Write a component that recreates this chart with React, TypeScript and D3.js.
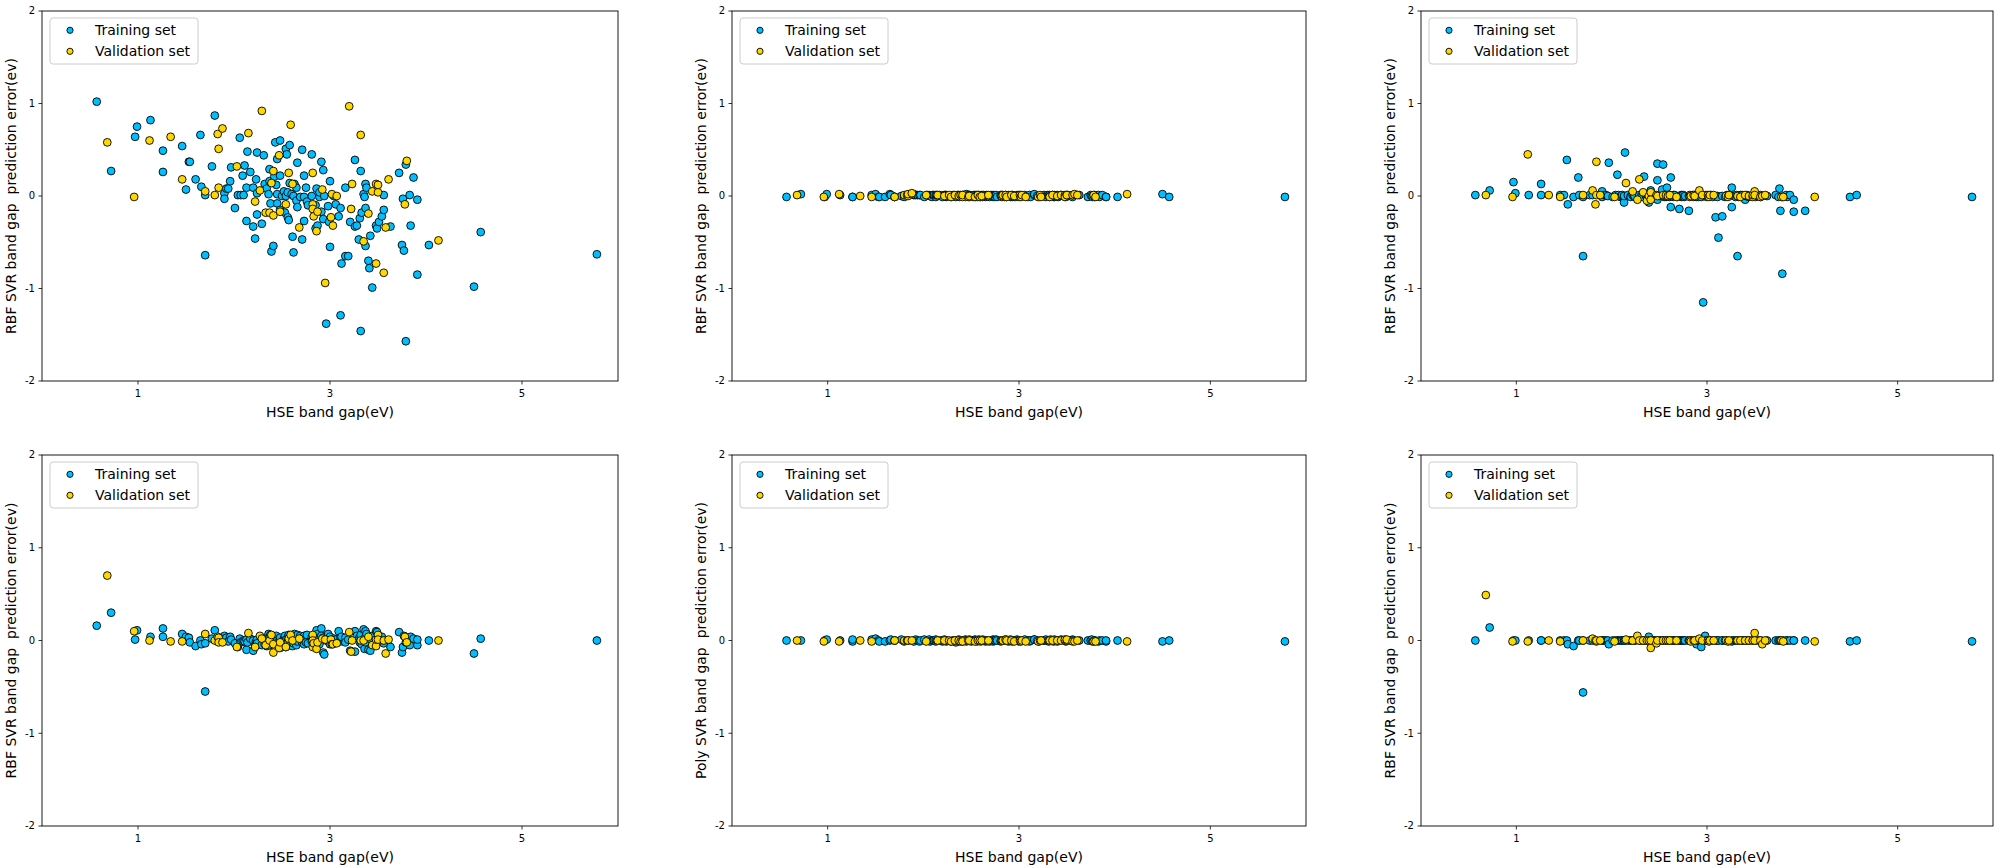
import * as d3 from 'd3';

// HSE band gap (eV) of every compound, shared by all six panels
const trainX = [
  0.57, 0.72, 0.97, 0.99, 1.13, 1.26, 1.26, 1.46, 1.5, 1.53,
  1.54, 1.6, 1.65, 1.66, 1.7, 1.7, 1.77, 1.8, 1.9, 1.9,
  1.92, 1.94, 1.96, 1.97, 2.01, 2.04, 2.06, 2.07, 2.09, 2.1,
  2.11, 2.13, 2.13, 2.14, 2.17, 2.2, 2.2, 2.22, 2.23, 2.24,
  2.24, 2.24, 2.29, 2.31, 2.32, 2.34, 2.36, 2.37, 2.37, 2.38,
  2.39, 2.41, 2.42, 2.43, 2.44, 2.45, 2.45, 2.45, 2.48, 2.48,
  2.48, 2.5, 2.52, 2.53, 2.54, 2.54, 2.55, 2.56, 2.56, 2.57,
  2.58, 2.58, 2.6, 2.61, 2.62, 2.62, 2.63, 2.65, 2.65, 2.66,
  2.66, 2.69, 2.71, 2.71, 2.73, 2.73, 2.73, 2.75, 2.76, 2.77,
  2.81, 2.81, 2.85, 2.86, 2.85, 2.87, 2.89, 2.89, 2.91, 2.91,
  2.93, 2.93, 2.94, 2.96, 2.98, 2.99, 3.0, 3.0, 3.04, 3.06,
  3.09, 3.11, 3.11, 3.12, 3.16, 3.16, 3.19, 3.21, 3.26, 3.26,
  3.28, 3.3, 3.31, 3.32, 3.32, 3.33, 3.35, 3.36, 3.37, 3.37,
  3.37, 3.38, 3.4, 3.41, 3.42, 3.44, 3.48, 3.49, 3.51, 3.54,
  3.56, 3.56, 3.63, 3.72, 3.75, 3.76, 3.77, 3.79, 3.79, 3.83,
  3.84, 3.87, 3.91, 3.91, 4.03, 4.5, 4.57, 5.78,
];
const validX = [
  0.68, 0.96, 1.12, 1.34, 1.46, 1.7, 1.8, 1.83, 1.84, 1.84,
  1.88, 2.03, 2.15, 2.22, 2.27, 2.29, 2.33, 2.37, 2.39, 2.41,
  2.41, 2.47, 2.48, 2.54, 2.57, 2.59, 2.61, 2.68, 2.82, 2.82,
  2.82, 2.83, 2.86, 2.87, 2.92, 2.95, 3.01, 3.02, 3.03, 3.07,
  3.2, 3.22, 3.23, 3.32, 3.35, 3.4, 3.44, 3.48, 3.48, 3.5,
  3.5, 3.56, 3.58, 3.61, 3.78, 3.8, 4.13,
];

// prediction errors, panel A (top left) ... F (bottom right)
const errTrainA = [
  1.02, 0.27, 0.64, 0.75, 0.82, 0.49, 0.26, 0.54, 0.07, 0.37,
  0.37, 0.18, 0.66, 0.1, 0.01, -0.64, 0.32, 0.87, 0.03, -0.03,
  0.08, 0.08, 0.16, 0.31, -0.13, 0.01, 0.63, 0.01, 0.22, 0.01,
  0.33, -0.27, 0.09, 0.48, 0.26, 0.09, -0.33, -0.46, 0.18, 0.47,
  -0.2, 0.03, -0.3, 0.44, 0.13, 0.08, 0.02, 0.29, 0.16, -0.08,
  -0.6, -0.54, 0.21, 0.58, 0.12, -0.08, 0.4, 0.02, -0.15, 0.6,
  0.22, 0.0, 0.05, -0.18, 0.51, 0.0, 0.45, -0.23, 0.04, -0.26,
  0.55, 0.14, 0.02, -0.44, -0.61, 0.0, 0.13, 0.09, -0.05, 0.36,
  -0.12, -0.01, 0.5, -0.47, 0.22, -0.01, -0.27, 0.09, -0.06, -0.1,
  0.45, 0.0, -0.1, 0.08, -0.35, -0.32, -0.01, 0.04, -0.17, 0.37,
  0.28, -0.25, 0.0, -1.38, -0.11, -0.28, 0.16, -0.55, 0.0, -0.09,
  -0.22, -0.13, -1.29, -0.73, -0.65, 0.09, -0.65, -0.28, -0.33, 0.39,
  -0.32, -0.47, -0.24, -1.46, 0.27, -0.18, 0.02, -0.01, 0.13, -0.13,
  -0.54, 0.09, -0.7, -0.78, -0.43, -0.99, -0.32, -0.35, -0.28, -0.22,
  -0.15, 0.01, -0.33, 0.25, -0.53, -0.03, -0.59, -1.57, 0.34, 0.01,
  -0.32, 0.2, -0.04, -0.85, -0.53, -0.98, -0.39, -0.63,
];
const errValidA = [
  0.58, -0.01, 0.6, 0.64, 0.18, 0.05, 0.01, 0.67, 0.09, 0.51,
  0.73, 0.32, 0.68, -0.06, 0.06, 0.92, -0.18, -0.18, 0.14, 0.27,
  -0.21, 0.44, -0.17, -0.09, 0.25, 0.77, 0.13, -0.34, 0.25, -0.09,
  -0.14, -0.22, -0.38, -0.17, 0.07, -0.94, -0.23, 0.02, -0.32, 0.0,
  0.97, -0.14, 0.13, 0.66, -0.49, -0.19, 0.05, 0.13, -0.73, 0.04,
  0.12, -0.83, -0.34, 0.18, -0.09, 0.38, -0.48,
];

const errTrainB = [
  -0.01, 0.02, -0.01, 0.02, 0.01, -0.01, -0.01, 0.01, 0.02, -0.01,
  -0.01, -0.01, 0.02, 0.01, -0.01, -0.01, 0.0, -0.01, 0.01, 0.02,
  0.01, 0.01, 0.01, 0.01, -0.01, 0.01, 0.01, 0.0, -0.01, 0.01,
  0.01, -0.01, 0.01, 0.01, 0.01, 0.0, -0.01, 0.01, 0.01, -0.01,
  0.01, 0.0, -0.01, 0.01, 0.0, -0.01, 0.01, 0.01, 0.0, -0.01,
  0.0, 0.01, 0.01, 0.0, -0.01, 0.01, 0.02, 0.0, -0.01, 0.01,
  0.01, 0.0, -0.01, 0.01, 0.0, 0.01, -0.01, 0.0, 0.01, -0.01,
  0.01, 0.0, -0.01, 0.01, 0.0, -0.01, 0.01, 0.0, -0.01, 0.01,
  0.0, -0.01, 0.01, 0.0, -0.01, 0.01, 0.0, -0.01, 0.01, -0.01,
  0.0, 0.01, -0.01, 0.01, 0.0, -0.01, 0.0, 0.01, -0.01, 0.0,
  0.01, -0.01, 0.0, -0.01, 0.01, 0.0, 0.01, -0.01, 0.0, 0.01,
  -0.01, 0.0, 0.01, -0.01, 0.01, 0.02, 0.0, -0.01, 0.0, 0.01,
  -0.01, 0.01, 0.0, -0.01, 0.01, 0.0, 0.01, -0.01, 0.0, 0.01,
  -0.01, 0.0, 0.01, -0.01, 0.0, 0.01, 0.0, -0.01, 0.01, 0.0,
  -0.01, 0.01, 0.01, -0.01, 0.01, 0.0, -0.01, 0.01, -0.01, 0.01,
  -0.01, 0.01, -0.01, -0.01, -0.01, 0.02, -0.01, -0.01,
];
const errValidB = [
  0.01, -0.01, 0.02, 0.0, -0.01, -0.01, 0.01, 0.01, 0.0, 0.02,
  0.03, 0.01, 0.01, 0.0, 0.01, -0.01, 0.01, 0.0, 0.01, -0.01,
  0.01, -0.01, 0.0, -0.01, 0.01, -0.01, 0.0, 0.01, 0.01, -0.01,
  0.0, 0.01, 0.01, -0.01, 0.01, 0.0, 0.01, -0.01, 0.01, -0.01,
  -0.01, 0.01, -0.01, -0.01, 0.01, 0.0, 0.01, 0.01, -0.01, 0.01,
  0.01, 0.01, 0.02, 0.01, 0.01, -0.01, 0.02,
];

const errTrainC = [
  0.01, 0.06, 0.15, 0.03, 0.01, 0.13, 0.01, 0.01, 0.01, 0.39,
  -0.09, -0.01, 0.2, 0.01, -0.01, -0.65, 0.01, 0.01, 0.05, -0.01,
  0.01, 0.01, 0.0, 0.36, -0.01, 0.01, 0.23, 0.01, -0.01, 0.0,
  0.01, -0.07, 0.0, 0.47, 0.01, 0.0, -0.01, 0.01, 0.0, 0.01,
  -0.01, 0.0, 0.01, 0.0, -0.01, 0.21, 0.0, 0.01, -0.01, 0.0,
  -0.07, 0.06, 0.01, 0.0, -0.01, 0.01, 0.0, -0.01, -0.04, 0.35,
  0.17, 0.0, 0.01, 0.07, 0.34, 0.0, -0.01, 0.01, 0.0, -0.01,
  0.09, 0.0, 0.01, -0.01, 0.2, -0.12, 0.0, 0.01, -0.01, 0.0,
  0.01, -0.01, -0.14, 0.0, 0.01, -0.01, 0.0, 0.01, -0.01, 0.0,
  -0.16, 0.0, 0.01, -0.01, 0.0, 0.01, -0.01, 0.0, 0.01, -0.01,
  0.0, 0.01, -0.01, -1.15, 0.0, 0.01, -0.01, 0.0, 0.01, -0.01,
  -0.23, 0.0, -0.01, -0.45, -0.22, 0.0, -0.01, 0.01, 0.09, -0.12,
  0.0, -0.01, 0.01, -0.65, 0.0, -0.01, 0.01, 0.0, -0.01, 0.0,
  0.01, -0.01, -0.04, 0.0, 0.01, -0.01, 0.0, 0.01, -0.01, 0.0,
  0.01, -0.01, 0.0, 0.01, -0.01, 0.08, -0.16, -0.84, -0.01, 0.01,
  -0.01, 0.01, -0.04, -0.17, -0.16, -0.01, 0.01, -0.01,
];
const errValidC = [
  0.01, -0.01, 0.45, 0.01, -0.01, 0.01, 0.06, -0.09, 0.01, 0.37,
  0.01, -0.01, 0.14, 0.05, -0.04, 0.18, 0.04, -0.05, 0.0, 0.04,
  -0.04, 0.01, 0.0, 0.01, 0.01, 0.0, 0.01, -0.01, 0.0, 0.01,
  -0.01, 0.0, 0.01, 0.0, 0.06, 0.01, 0.01, -0.01, 0.01, 0.01,
  0.0, -0.01, 0.01, 0.0, -0.01, 0.01, 0.0, -0.01, 0.01, 0.05,
  0.01, -0.01, 0.0, 0.01, -0.01, -0.01, -0.01,
];

const errTrainD = [
  0.16, 0.3, 0.01, 0.11, 0.04, 0.13, 0.04, 0.07, 0.04, 0.03,
  -0.02, -0.06, 0.0, -0.04, -0.03, -0.55, 0.02, 0.11, 0.05, 0.02,
  0.03, -0.01, 0.04, 0.01, -0.03, -0.07, 0.02, -0.02, -0.01, 0.0,
  -0.01, -0.1, 0.01, -0.02, 0.02, -0.11, 0.0, -0.05, -0.01, 0.01,
  -0.04, -0.03, -0.05, 0.02, -0.04, -0.06, 0.07, 0.04, -0.05, 0.06,
  0.0, 0.03, 0.04, -0.02, 0.05, -0.01, 0.0, -0.03, 0.02, -0.08,
  0.03, -0.05, 0.02, 0.05, -0.07, 0.01, -0.04, 0.03, -0.02, 0.06,
  -0.05, 0.02, 0.04, -0.06, 0.01, -0.03, 0.07, 0.03, -0.05, 0.06,
  -0.01, 0.05, -0.02, 0.03, -0.04, 0.01, 0.05, -0.02, 0.06, -0.03,
  0.04, -0.01, 0.05, 0.11, -0.03, 0.07, 0.02, -0.04, 0.13, 0.05,
  -0.13, 0.03, -0.15, 0.0, 0.07, -0.02, 0.04, -0.04, 0.02, 0.01,
  0.1, -0.01, 0.03, 0.04, 0.03, -0.02, 0.01, -0.11, -0.12, 0.1,
  0.05, 0.02, -0.02, 0.03, 0.06, -0.04, 0.12, -0.09, 0.1, -0.02,
  0.04, 0.07, -0.1, 0.02, -0.11, 0.05, 0.1, 0.09, 0.03, 0.04,
  -0.03, 0.0, -0.07, 0.09, -0.13, -0.07, 0.05, -0.02, 0.03, -0.05,
  0.04, 0.02, -0.05, 0.01, 0.0, -0.14, 0.02, 0.0,
];
const errValidD = [
  0.7, 0.1, 0.0, -0.01, -0.01, 0.07, 0.0, 0.04, 0.03, -0.02,
  -0.02, -0.07, 0.08, -0.07, 0.05, 0.02, -0.05, 0.0, 0.06, -0.13,
  -0.04, -0.08, -0.02, -0.07, 0.02, 0.06, 0.0, 0.02, 0.06, 0.0,
  -0.07, -0.03, -0.09, -0.02, 0.02, 0.01, 0.01, -0.04, -0.04, -0.03,
  0.09, -0.12, 0.0, 0.0, 0.0, 0.04, -0.05, -0.06, 0.01, 0.06,
  0.01, 0.0, -0.14, 0.01, 0.04, -0.02, 0.0,
];

const errTrainE = [
  0.0, 0.0, 0.0, 0.01, 0.0, -0.01, 0.01, 0.01, 0.02, 0.0,
  -0.01, -0.01, 0.0, 0.01, 0.0, 0.0, 0.01, -0.01, 0.0, -0.01,
  0.01, 0.0, -0.01, 0.0, 0.01, 0.0, 0.01, -0.01, 0.0, 0.0,
  0.0, -0.01, 0.01, 0.0, 0.0, -0.01, 0.0, 0.01, 0.0, -0.01,
  0.0, 0.0, -0.01, 0.0, 0.0, -0.02, 0.0, 0.01, -0.01, 0.0,
  0.0, -0.01, 0.0, 0.0, 0.01, 0.0, -0.01, 0.0, 0.0, 0.01,
  0.0, -0.01, 0.0, 0.0, 0.01, 0.0, 0.0, -0.01, 0.0, 0.0,
  0.01, 0.0, -0.01, 0.0, 0.0, 0.01, 0.0, -0.01, 0.0, 0.0,
  0.0, -0.01, 0.0, 0.0, 0.01, -0.01, 0.0, 0.0, 0.01, 0.0,
  -0.01, 0.0, 0.0, 0.01, 0.0, 0.0, -0.01, 0.0, 0.0, 0.01,
  0.0, -0.01, 0.0, 0.0, 0.01, 0.0, -0.01, 0.0, 0.0, 0.01,
  0.0, 0.0, -0.01, 0.0, 0.01, 0.01, 0.0, -0.01, 0.0, 0.0,
  0.01, 0.0, -0.01, 0.0, 0.0, 0.01, 0.0, -0.01, 0.0, 0.0,
  0.01, 0.0, -0.01, 0.0, 0.0, 0.01, 0.0, -0.01, 0.0, 0.0,
  0.01, 0.0, 0.0, 0.0, 0.0, 0.01, -0.01, 0.0, 0.0, -0.01,
  0.0, 0.0, -0.01, 0.0, 0.0, -0.01, 0.0, -0.01,
];
const errValidE = [
  0.0, -0.01, -0.01, 0.0, -0.01, 0.0, 0.0, 0.0, 0.0, 0.0,
  0.0, -0.01, 0.0, 0.0, 0.0, -0.01, 0.0, 0.0, -0.01, 0.0,
  -0.01, 0.0, 0.0, -0.01, 0.0, 0.0, 0.0, 0.0, 0.0, 0.0,
  0.0, 0.0, 0.01, 0.0, 0.0, -0.01, 0.0, -0.01, 0.0, -0.01,
  -0.01, 0.0, 0.0, 0.0, 0.0, 0.0, 0.0, 0.0, 0.01, 0.0,
  0.01, -0.01, -0.01, 0.0, -0.01, -0.01, -0.01,
];

const errTrainF = [
  0.0, 0.14, 0.0, 0.0, 0.0, 0.0, 0.0, 0.0, 0.0, 0.0,
  -0.04, -0.06, 0.0, 0.0, 0.0, -0.56, 0.0, 0.0, 0.0, 0.0,
  0.0, 0.0, 0.0, -0.04, 0.0, 0.0, 0.0, 0.0, 0.0, 0.0,
  0.0, 0.0, 0.0, 0.0, 0.0, 0.0, 0.0, 0.0, 0.0, 0.0,
  0.0, 0.0, 0.0, 0.0, 0.0, 0.0, 0.0, 0.0, 0.0, 0.0,
  0.04, 0.0, 0.0, 0.0, 0.0, 0.0, 0.0, 0.0, 0.0, 0.0,
  0.0, 0.0, 0.0, 0.0, 0.0, 0.0, 0.0, 0.0, 0.0, 0.0,
  0.0, 0.0, 0.0, 0.0, 0.0, 0.0, 0.0, 0.0, 0.0, 0.0,
  0.0, 0.0, 0.0, 0.0, 0.0, 0.0, 0.0, 0.0, 0.0, 0.0,
  0.0, 0.0, 0.0, 0.0, 0.0, 0.0, -0.04, 0.0, 0.0, 0.0,
  0.0, 0.0, -0.07, 0.0, 0.05, 0.0, 0.0, 0.0, 0.0, 0.0,
  0.0, 0.0, 0.0, 0.0, 0.0, 0.0, 0.0, 0.0, 0.0, -0.01,
  0.0, 0.0, 0.0, 0.0, 0.0, 0.0, 0.0, 0.0, 0.0, 0.0,
  0.0, 0.0, 0.0, 0.0, 0.0, 0.0, 0.0, 0.0, 0.0, 0.0,
  0.0, 0.0, 0.0, 0.0, 0.0, 0.0, 0.0, 0.0, 0.0, 0.0,
  0.0, 0.0, 0.0, 0.0, 0.0, -0.01, 0.0, -0.01,
];
const errValidF = [
  0.49, -0.01, -0.01, 0.0, -0.01, 0.0, 0.02, 0.0, -0.01, 0.0,
  0.0, -0.01, 0.01, 0.0, 0.05, 0.0, 0.0, 0.0, 0.0, -0.08,
  0.0, -0.03, 0.0, 0.0, 0.0, 0.0, 0.0, 0.0, 0.0, 0.0,
  0.0, -0.01, 0.0, 0.0, 0.02, 0.0, 0.0, -0.01, 0.0, 0.0,
  0.0, -0.01, 0.0, 0.0, 0.0, 0.0, 0.0, 0.0, 0.0, 0.08,
  0.0, 0.0, -0.04, 0.0, 0.0, -0.01, -0.01,
];

const xTicks = [1, 3, 5];
const yTicks = [-2, -1, 0, 1, 2];
const seriesNames = ['Training set', 'Validation set'];
const xTitle = 'HSE band gap(eV)';
const rbfTitle = 'RBF SVR band gap  prediction error(ev)';
const polyTitle = 'Poly SVR band gap  prediction error(ev)';

const TRAIN_COLOR = '#00bfff';
const VALID_COLOR = '#ffd700';
const FONT = '"DejaVu Sans", sans-serif';

type PanelProps = {
  left: number;
  top: number;
  width: number;
  height: number;
  train: number[];
  valid: number[];
  yTitle: string;
};

function Panel({ left, top, width, height, train, valid, yTitle }: PanelProps) {
  const x = d3.scaleLinear().domain([0, 6]).range([0, width]);
  const y = d3.scaleLinear().domain([-2, 2]).range([height, 0]);

  return (
    <g transform={`translate(${left},${top})`} fontFamily={FONT}>
      {/* training first, validation drawn on top */}
      {trainX.map((v, i) => (
        <circle key={'t' + i} cx={x(v)} cy={y(train[i])} r={3.9}
          fill={TRAIN_COLOR} stroke='#000' strokeWidth={0.9} />
      ))}
      {validX.map((v, i) => (
        <circle key={'v' + i} cx={x(v)} cy={y(valid[i])} r={3.9}
          fill={VALID_COLOR} stroke='#000' strokeWidth={0.9} />
      ))}

      <rect x={0} y={0} width={width} height={height} fill='none' stroke='#000' strokeWidth={0.9} />

      {xTicks.map((t) => (
        <g key={'xt' + t} transform={`translate(${x(t)},${height})`}>
          <line y2={3.5} stroke='#000' strokeWidth={0.8} />
          <text y={16} textAnchor='middle' fontSize={10}>{t}</text>
        </g>
      ))}
      {yTicks.map((t) => (
        <g key={'yt' + t} transform={`translate(0,${y(t)})`}>
          <line x2={-3.5} stroke='#000' strokeWidth={0.8} />
          <text x={-7} dy='0.34em' textAnchor='end' fontSize={10}>{t}</text>
        </g>
      ))}

      <text x={width / 2} y={height + 36} textAnchor='middle' fontSize={14}>{xTitle}</text>
      <text transform={`translate(-26.5,${height / 2}) rotate(-90)`} textAnchor='middle'
        fontSize={14} style={{ whiteSpace: 'pre' }}>{yTitle}</text>

      <g transform='translate(8,7)'>
        <rect x={0} y={0} width={148} height={46} rx={3} fill='#fff' fillOpacity={0.8}
          stroke='#cccccc' strokeWidth={1} />
        {seriesNames.map((name, i) => (
          <g key={name} transform={`translate(0,${12.3 + i * 21})`}>
            <circle cx={20} cy={0} r={3.1} fill={i === 0 ? TRAIN_COLOR : VALID_COLOR}
              stroke='#000' strokeWidth={0.9} />
            <text x={45} y={5} fontSize={14}>{name}</text>
          </g>
        ))}
      </g>
    </g>
  );
}

const columns = [
  { left: 42, width: 576 },
  { left: 732, width: 574 },
  { left: 1421, width: 572 },
];
const rows = [
  { top: 11, height: 370 },
  { top: 455, height: 371 },
];

const panels = [
  { train: errTrainA, valid: errValidA, yTitle: rbfTitle },
  { train: errTrainB, valid: errValidB, yTitle: rbfTitle },
  { train: errTrainC, valid: errValidC, yTitle: rbfTitle },
  { train: errTrainD, valid: errValidD, yTitle: rbfTitle },
  { train: errTrainE, valid: errValidE, yTitle: polyTitle },
  { train: errTrainF, valid: errValidF, yTitle: rbfTitle },
];

export default function App() {
  return (
    <svg width={2002} height={868} style={{ position: 'absolute', left: 0, top: 0, background: '#fff' }}>
      <rect width={2002} height={868} fill='#fff' />
      {panels.map((p, i) => {
        const c = columns[i % 3];
        const r = rows[Math.floor(i / 3)];
        return <Panel key={i} left={c.left} top={r.top} width={c.width} height={r.height} {...p} />;
      })}
    </svg>
  );
}
